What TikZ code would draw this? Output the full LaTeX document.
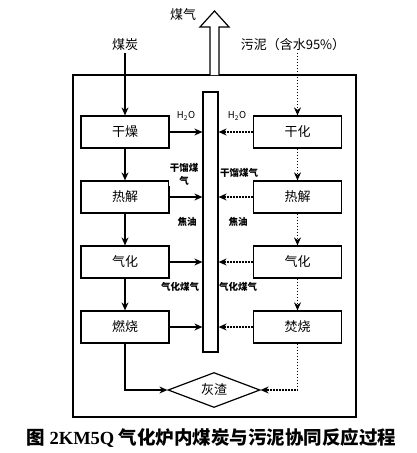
\documentclass[tikz,border=0pt]{standalone}
\usepackage{fontspec}
\setmainfont{Noto Sans CJK SC}
\newfontfamily\latinserif{Liberation Serif}
\usetikzlibrary{arrows.meta,shapes.geometric}
\begin{document}
\begin{tikzpicture}[x=1pt,y=-1pt, line width=1.2pt,
  box/.style={draw, minimum width=88pt, minimum height=32pt, inner sep=0pt, font=\fontsize{13}{15}\selectfont},
  arr/.style={-{Stealth[length=8pt,width=7pt]}},
  dotarr/.style={arr, dash pattern=on 1.5pt off 1.5pt},
  lbl/.style={font=\fontsize{9.5}{13}\selectfont\bfseries, inner sep=1pt},
  h2o/.style={font=\fontsize{9.5}{10}\selectfont, inner sep=1pt},
  toplbl/.style={font=\fontsize{13}{15}\selectfont, inner sep=1pt},
]
\useasboundingbox (0,0) rectangle (417,453);
\fill[white] (0,0) rectangle (417,453);
% furnace
\node[draw, minimum width=283pt, minimum height=342pt, inner sep=0pt] (fur) at (214.5,246) {};
% gas outlet arrow
\draw[fill=white] (210,75) -- (210,27) -- (200,27) -- (214.5,11) -- (229,27) -- (219,27) -- (219,75);
\node[toplbl] (gas) at (183,15) {煤气};
\node[toplbl] (coal) at (125,45) {煤炭};
\node[toplbl] (sludge) at (293,45) {污泥（含水95\%）};
% column
\node[draw, minimum width=15pt, minimum height=260pt, inner sep=0pt] (col) at (210.5,222) {};
% boxes
\node[box] (l1) at (125,132) {干燥};
\node[box] (l2) at (125,197) {热解};
\node[box] (l3) at (125,262) {气化};
\node[box] (l4) at (125,327) {燃烧};
\node[box] (r1) at (297.5,132) {干化};
\node[box] (r2) at (297.5,197) {热解};
\node[box] (r3) at (297.5,262) {气化};
\node[box] (r4) at (297.5,327) {焚烧};
\node[diamond, draw, minimum width=92pt, minimum height=35pt, inner sep=0pt, aspect=2.6, font=\fontsize{13}{15}\selectfont] (ash) at (214,390) {灰渣};
% inflow
\draw[arr] (coal.south) -- (l1.north);
\draw[dotarr] (sludge.south -| r1.north) -- (r1.north);
% vertical flows
\draw[arr] (l1) -- (l2);
\draw[arr] (l2) -- (l3);
\draw[arr] (l3) -- (l4);
\draw[dotarr] (r1) -- (r2);
\draw[dotarr] (r2) -- (r3);
\draw[dotarr] (r3) -- (r4);
% to column
\foreach \i in {1,2,3,4}{
  \draw[arr] (l\i.east) -- (l\i.east -| col.west);
  \draw[dotarr] (r\i.west) -- (r\i.west -| col.east);
}
% ash
\draw[arr] (l4.south) |- (ash.west);
\draw[dotarr] (r4.south) |- (ash.east);
% labels
\node[h2o] (h2ol) at (186,116) {H\textsubscript{2}O};
\node[h2o] (h2or) at (237,116) {H\textsubscript{2}O};
\node[lbl, fill=white, align=center] (gl) at (184,174) {干馏煤\\气};
\node[lbl] (gr) at (239,173) {干馏煤气};
\node[lbl] (tl) at (187,222) {焦油};
\node[lbl] (tr) at (238,222) {焦油};
\node[lbl] (ql) at (180,287) {气化煤气};
\node[lbl] (qr) at (238,287) {气化煤气};
% caption
\node[font=\fontsize{18.5}{20}\selectfont\bfseries, inner sep=0pt] (cap) at (211.5,438) {图 {\latinserif\bfseries 2KM5Q} 气化炉内煤炭与污泥协同反应过程};
\end{tikzpicture}
\end{document}
